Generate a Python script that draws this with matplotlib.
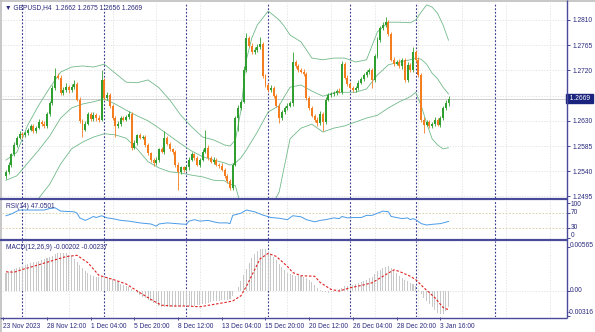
import matplotlib
matplotlib.use("Agg")
import matplotlib.pyplot as plt
from matplotlib.lines import Line2D
import matplotlib.transforms as mtrans
import numpy as np

# ---------------- data ----------------
symbol_title = "\u25BC GBPUSD,H4  1.2662 1.2675 1.2656 1.2669"
first_open = 1.2532

closes = [
    1.2539, 1.2552, 1.2570, 1.2587, 1.2600, 1.2607, 1.2604, 1.2609, 1.2614, 1.2621,
    1.2612, 1.2618, 1.2628, 1.2625, 1.2621, 1.2642, 1.2661, 1.2689, 1.2710, 1.2707,
    1.2680, 1.2685, 1.2691, 1.2685, 1.2691, 1.2696, 1.2668, 1.2630, 1.2614, 1.2625,
    1.2642, 1.2633, 1.2641, 1.2635, 1.2632, 1.2703, 1.2671, 1.2677, 1.2657, 1.2635,
    1.2621, 1.2625, 1.2635, 1.2632, 1.2637, 1.2642, 1.2582, 1.2591, 1.2604, 1.2600,
    1.2602, 1.2587, 1.2572, 1.2561, 1.2555, 1.2561, 1.2579, 1.2575, 1.2600, 1.2589,
    1.2579, 1.2575, 1.2552, 1.2539, 1.2547, 1.2543, 1.2547, 1.2561, 1.2570, 1.2564,
    1.2552, 1.2561, 1.2575, 1.2582, 1.2564, 1.2557, 1.2561, 1.2552, 1.2550, 1.2543,
    1.2532, 1.2522, 1.2511, 1.2552, 1.2635, 1.2653, 1.2664, 1.2721, 1.2778, 1.2764,
    1.2753, 1.2757, 1.2762, 1.2767, 1.2710, 1.2694, 1.2685, 1.2689, 1.2675, 1.2657,
    1.2635, 1.2646, 1.2653, 1.2657, 1.2661, 1.2735, 1.2728, 1.2721, 1.2718, 1.2714,
    1.2671, 1.2653, 1.2639, 1.2632, 1.2626, 1.2642, 1.2628, 1.2668, 1.2677, 1.2678,
    1.2680, 1.2684, 1.2682, 1.2732, 1.2707, 1.2696, 1.2689, 1.2685, 1.2689, 1.2698,
    1.2705, 1.2712, 1.2718, 1.2721, 1.2703, 1.2746, 1.2774, 1.2796, 1.2801, 1.2806,
    1.2785, 1.2739, 1.2732, 1.2735, 1.2728, 1.2739, 1.2703, 1.2730, 1.2721, 1.2753,
    1.2739, 1.2712, 1.2632, 1.2623, 1.2628, 1.2621, 1.2625, 1.2632, 1.2623, 1.2635,
    1.2653, 1.2662, 1.2669]

# upper / lower wick lengths in pips
up_wick_pips = [
    3, 4, 3, 5, 3, 4, 3, 3, 4, 3,
    4, 3, 5, 3, 4, 3, 4, 5, 14, 6,
    4, 5, 6, 3, 5, 7, 3, 4, 3, 4,
    4, 3, 4, 3, 5, 18, 4, 5, 3, 3,
    3, 4, 3, 4, 3, 5, 3, 4, 3, 4,
    3, 3, 4, 3, 3, 4, 3, 5, 11, 3,
    4, 3, 3, 4, 3, 3, 4, 5, 4, 3,
    4, 3, 5, 32, 4, 3, 4, 3, 3, 4,
    3, 3, 4, 3, 4, 5, 4, 6, 9, 4,
    5, 4, 5, 13, 4, 3, 4, 5, 3, 3,
    4, 3, 3, 4, 5, 18, 4, 3, 3, 4,
    3, 4, 3, 3, 4, 5, 3, 4, 3, 3,
    4, 3, 4, 5, 3, 4, 3, 4, 3, 4,
    3, 4, 3, 4, 3, 4, 5, 4, 5, 9,
    4, 3, 5, 4, 6, 4, 3, 5, 4, 9,
    4, 5, 3, 4, 3, 4, 3, 4, 3, 4,
    4, 5, 6]
lo_wick_pips = [
    5, 3, 4, 3, 4, 3, 5, 3, 4, 3,
    4, 3, 3, 5, 3, 4, 3, 3, 4, 3,
    4, 3, 3, 5, 3, 4, 3, 4, 12, 3,
    3, 4, 3, 5, 4, 3, 4, 3, 4, 3,
    19, 3, 4, 3, 3, 4, 4, 3, 4, 3,
    3, 4, 3, 4, 5, 3, 4, 3, 4, 3,
    3, 4, 4, 33, 3, 4, 3, 4, 3, 4,
    3, 4, 3, 3, 4, 3, 4, 3, 4, 3,
    4, 3, 5, 4, 3, 24, 4, 3, 4, 3,
    4, 3, 4, 3, 4, 3, 4, 3, 4, 3,
    9, 4, 3, 4, 3, 4, 3, 4, 3, 4,
    3, 4, 3, 4, 5, 3, 17, 4, 3, 4,
    3, 4, 3, 4, 3, 4, 3, 4, 3, 4,
    3, 4, 3, 4, 14, 3, 4, 3, 4, 3,
    4, 3, 4, 3, 4, 5, 4, 3, 4, 3,
    4, 3, 4, 14, 3, 4, 3, 4, 3, 4,
    3, 3, 6]

# Bollinger bands (20,2) read at these bars
bb_idx = [0, 4, 8, 12, 16, 20, 24, 28, 32, 36, 40, 44, 48, 52, 56, 60, 64, 68, 72, 76,
          80, 82, 84, 86, 88, 90, 92, 96, 100, 102, 104, 108, 112, 116, 120, 124, 128,
          132, 136, 140, 144, 148, 150, 152, 154, 156, 158, 160, 162]
bb_upper = [1.2560, 1.2574, 1.2623, 1.2658, 1.2689, 1.2717, 1.2726, 1.2728, 1.2726, 1.2731,
            1.2715, 1.2699, 1.2698, 1.2703, 1.2689, 1.2667, 1.2640, 1.2619, 1.2601, 1.2596,
            1.2587, 1.2585, 1.2596, 1.2649, 1.2739, 1.2778, 1.2801, 1.2826, 1.2810, 1.2798,
            1.2783, 1.2771, 1.2742, 1.2739, 1.2742, 1.2742, 1.2735, 1.2739, 1.2789, 1.2806,
            1.2806, 1.2805, 1.2810, 1.2824, 1.2837, 1.2833, 1.2822, 1.2801, 1.2774]
bb_mid = [1.2524, 1.2532, 1.2555, 1.2578, 1.2603, 1.2635, 1.2653, 1.2660, 1.2664, 1.2669,
          1.2660, 1.2649, 1.2639, 1.2630, 1.2617, 1.2603, 1.2589, 1.2576, 1.2566, 1.2560,
          1.2555, 1.2551, 1.2555, 1.2564, 1.2578, 1.2594, 1.2610, 1.2646, 1.2657, 1.2674,
          1.2690, 1.2694, 1.2683, 1.2674, 1.2680, 1.2681, 1.2681, 1.2687, 1.2712, 1.2730,
          1.2735, 1.2739, 1.2742, 1.2740, 1.2731, 1.2715, 1.2705, 1.2690, 1.2678]
bb_lower = [1.2489, 1.2485, 1.2480, 1.2492, 1.2517, 1.2553, 1.2580, 1.2592, 1.2601, 1.2607,
            1.2605, 1.2599, 1.2580, 1.2557, 1.2546, 1.2539, 1.2537, 1.2533, 1.2530, 1.2524,
            1.2523, 1.2517, 1.2514, 1.2478, 1.2417, 1.2408, 1.2419, 1.2466, 1.2503, 1.2551,
            1.2598, 1.2617, 1.2624, 1.2610, 1.2617, 1.2621, 1.2628, 1.2635, 1.2640, 1.2653,
            1.2664, 1.2673, 1.2681, 1.2657, 1.2626, 1.2598, 1.2587, 1.2580, 1.2582]

# RSI(14)
rsi_idx = [0, 2, 4, 5, 10, 14, 16, 18, 20, 25, 26, 27, 29, 31, 32, 33, 35, 37, 39, 42,
           45, 49, 53, 55, 56, 59, 64, 66, 67, 69, 71, 74, 76, 78, 81, 82, 83, 86, 88, 91,
           94, 97, 100, 103, 105, 108, 110, 113, 115, 117, 120, 122, 123, 125, 127, 130,
           132, 134, 137, 138, 140, 141, 143, 145, 147, 148, 149, 150, 152, 154, 156, 159, 162]
rsi_vals = [63, 68, 76, 79, 79, 79, 83, 85, 76, 74, 70, 57, 50, 57, 61, 58, 63, 57, 55, 50,
            48, 43, 40, 34, 40, 43, 40, 39, 48, 52, 48, 50, 46, 43, 43, 41, 64, 70, 79, 74,
            65, 58, 56, 52, 63, 60, 52, 46, 50, 52, 57, 55, 61, 57, 58, 58,
            64, 64, 73, 76, 74, 61, 58, 55, 57, 52, 55, 52, 41, 37, 39, 41, 47.05]

# MACD(12,26,9) main histogram, in units of 0.00001
macd_main_e5 = [
    230, 245, 262, 280, 295, 310, 322, 334, 345, 355,
    365, 373, 382, 390, 402, 416, 430, 450, 470, 482,
    490, 487, 480, 462, 440, 410, 372, 330, 288, 250,
    228, 210, 195, 180, 176, 175, 180, 180, 165, 150,
    130, 110, 95, 80, 68, 55, 25, 0, -25, -50,
    -70, -90, -110, -130, -150, -170, -185, -200, -203, -205,
    -205, -205, -205, -205, -200, -195, -192, -190, -188, -185,
    -180, -175, -168, -160, -150, -140, -132, -125, -122, -120,
    -118, -115, -95, -60, -5, 50, 125, 200, 280, 360,
    415, 470, 505, 540, 535, 530, 500, 470, 430, 390,
    345, 300, 265, 230, 215, 200, 195, 190, 188, 178,
    167, 140, 113, 78, 42, 15, -13, -17, -21, -17,
    -13, 4, 21, 42, 63, 67, 71, 82, 92, 103,
    113, 130, 146, 163, 180, 215, 251, 272, 293, 304,
    314, 293, 272, 235, 197, 172, 146, 125, 105, 84,
    63, 10, -42, -84, -126, -168, -209, -245, -280, -287,
    -293, -260, -202]
# MACD signal line, in units of 0.00001
sig_idx = [0, 3, 6, 10, 16, 22, 26, 30, 34, 39, 44, 49, 54, 57, 61, 66, 71, 76, 81, 83,
           86, 88, 91, 93, 96, 99, 103, 105, 108, 113, 115, 119, 122, 126, 130, 134, 138,
           142, 144, 148, 150, 153, 157, 160, 162]
sig_e5 = [245, 240, 275, 314, 377, 439, 455, 360, 200, 150, 90, -20, -126, -180, -190,
          -190, -200, -170, -140, -126, -60, 60, 270, 410, 480, 440, 314, 235, 195, 188,
          110, 21, 0, 42, 71, 105, 188, 270, 250, 188, 146, 42, -84, -209, -237]

price_ticks = [1.2810, 1.2765, 1.2720, 1.2630, 1.2585, 1.2540, 1.2495]
price_grid = [1.2810, 1.2765, 1.2720, 1.2675, 1.2630, 1.2585, 1.2540, 1.2495]
last_price = 1.2669
time_label_bars = [-1, 15, 31, 47, 63, 79, 95, 111, 127, 143, 159]
time_labels = ["23 Nov 2023", "28 Nov 12:00", "1 Dec 04:00", "5 Dec 20:00", "8 Dec 12:00",
               "13 Dec 04:00", "15 Dec 20:00", "20 Dec 12:00", "26 Dec 04:00",
               "28 Dec 20:00", "3 Jan 16:00"]
week_sep_bars = [6, 36, 66, 96, 126, 150, 179]
vgrid_bars = [7 + 16 * k for k in range(13)]

# ---------------- styling ----------------
W, H = 595, 332
NAVY = "#2a2a7e"
FRAME = "#4a4a9a"
GRID = "#dcdcdc"
BULL = "#2fa02f"
BEAR = "#f47d20"
BBC = "#72b98a"
FONT = ["Liberation Sans", "DejaVu Sans"]
FS = 4.8
plt.rcParams["font.family"] = FONT

fig = plt.figure(figsize=(W / 100, H / 100), dpi=100)
fig.patch.set_facecolor("white")


def rect(x0, y0, x1, y1):
    return [x0 / W, 1 - y1 / H, (x1 - x0) / W, (y1 - y0) / H]


ax = fig.add_axes(rect(2, 3, 566.5, 198))
ax_rsi = fig.add_axes(rect(2, 200, 566.5, 239))
ax_macd = fig.add_axes(rect(2, 241, 566.5, 317))

XMIN, XMAX = -1.47, 205.2
for a in (ax, ax_rsi, ax_macd):
    a.set_xlim(XMIN, XMAX)
    a.set_facecolor("white")
    for s in a.spines.values():
        s.set_visible(False)
    a.tick_params(axis="x", which="both", bottom=False, labelbottom=False)
    for b in vgrid_bars:
        a.axvline(b, color=GRID, lw=0.5, ls=(0, (2, 2)), zorder=0)
    for b in week_sep_bars:
        a.axvline(b, color="#3a3a8c", lw=0.8, ls=(0, (1.6, 1.6)), zorder=1)

# ---------------- main price panel ----------------
ax.set_ylim(1.24923, 1.28403)
for p in price_grid:
    ax.axhline(p, color=GRID, lw=0.5, ls=(0, (2, 2)), zorder=0)
ax.axhline(last_price, color="#c4c4c4", lw=0.6, zorder=1)

c = np.array(closes)
o = np.array([first_open] + closes[:-1])
x = np.arange(len(c))
hi = np.maximum(o, c) + np.array(up_wick_pips) * 0.0001
lo = np.minimum(o, c) - np.array(lo_wick_pips) * 0.0001
cols = [BULL if cc >= oo else BEAR for oo, cc in zip(o, c)]
ax.vlines(x, lo, hi, colors=cols, lw=0.6, zorder=3)
body = np.maximum(np.abs(c - o), 0.00005)
ax.bar(x, body, bottom=np.minimum(o, c), width=0.72, color=cols, lw=0, zorder=4)

ax.plot(bb_idx, bb_upper, color=BBC, lw=0.6, zorder=2)
ax.plot(bb_idx, bb_mid, color=BBC, lw=0.6, zorder=2)
ax.plot(bb_idx, bb_lower, color=BBC, lw=0.6, zorder=2)

ax.yaxis.tick_right()
ax.set_yticks(price_ticks)
ax.set_yticklabels([f"{p:.4f}" for p in price_ticks])
ax.tick_params(axis="y", which="both", direction="out", length=2.5, width=0.6,
               color=NAVY, labelcolor=NAVY, labelsize=FS, pad=1.5)
ax.text(1.0, last_price, "  " + f"{last_price:.4f}" + " ",
        transform=mtrans.blended_transform_factory(ax.transAxes, ax.transData),
        ha="left", va="center", fontsize=FS, color="white", zorder=10,
        bbox=dict(boxstyle="square,pad=0.15", fc="#1a237e", ec="#1a237e"),
        clip_on=False)

# ---------------- RSI panel ----------------
ax_rsi.set_ylim(-2, 107)
ax_rsi.axhline(70, color="#d2c9a0", lw=0.6, ls=(0, (2, 2)), zorder=0)
ax_rsi.axhline(30, color="#d2c9a0", lw=0.6, ls=(0, (2, 2)), zorder=0)
ax_rsi.plot(rsi_idx, rsi_vals, color="#4a9be6", lw=0.7, zorder=3)
ax_rsi.yaxis.tick_right()
ax_rsi.set_yticks([0, 30, 70, 100])
ax_rsi.set_yticklabels([])
ax_rsi.tick_params(axis="y", direction="out", length=2.5, width=0.6, color=NAVY)

# ---------------- MACD panel ----------------
ax_macd.set_ylim(-0.0033, 0.00637)
ax_macd.axhline(0, color=GRID, lw=0.5, ls=(0, (2, 2)), zorder=0)
ax_macd.bar(x, np.array(macd_main_e5) * 1e-5, width=0.38, color="#c8c8c8", lw=0, zorder=2)
ax_macd.plot(sig_idx, np.array(sig_e5) * 1e-5, color="#e02020", lw=0.8,
             ls=(0, (2.2, 1.6)), zorder=3)
ax_macd.yaxis.tick_right()
ax_macd.set_yticks([-0.00316, 0, 0.00565])
ax_macd.set_yticklabels([])
ax_macd.tick_params(axis="y", direction="out", length=2.5, width=0.6, color=NAVY)
ax_macd.set_xticks(time_label_bars)
ax_macd.set_xticklabels(time_labels)
ax_macd.tick_params(axis="x", bottom=True, labelbottom=True, direction="out", length=2.5,
                    width=0.6, color=NAVY, labelcolor=NAVY, labelsize=FS, pad=1.5)
for t in ax_macd.get_xticklabels():
    t.set_ha("left")


# ---------------- texts & frame ----------------
def ftext(px, py, s, **kw):
    kw.setdefault("fontsize", FS)
    kw.setdefault("color", NAVY)
    fig.text(px / W, 1 - py / H, s, va="center", **kw)


ftext(5, 8, symbol_title)
ftext(6, 206.5, "RSI(14) 47.0501")
ftext(6, 247.5, "MACD(12,26,9) -0.00202 -0.00237")
ftext(571, 204, "100")
ftext(571, 212.7, "70")
ftext(571, 227.3, "30")
ftext(571, 235.5, "0")
ftext(570, 245.7, "0.00565")
ftext(570, 290.7, "0.00")
ftext(568, 312.5, "-0.00316")


def fline(x0, y0, x1, y1, color, lw):
    fig.add_artist(Line2D([x0 / W, x1 / W], [1 - y0 / H, 1 - y1 / H],
                          color=color, lw=lw, solid_capstyle="butt"))


fline(0, 0.6, 595, 0.6, "#bdbdbd", 1.2)
fline(0.6, 0, 0.6, 332, "#bdbdbd", 1.2)
fline(566.5, 0, 566.5, 317.5, FRAME, 1.0)
fline(0, 199, 566.5, 199, FRAME, 1.6)
fline(0, 239.8, 566.5, 239.8, FRAME, 1.6)
fline(0, 317.5, 566.5, 317.5, FRAME, 1.0)

fig.savefig("out.png", dpi=100, facecolor="white")
